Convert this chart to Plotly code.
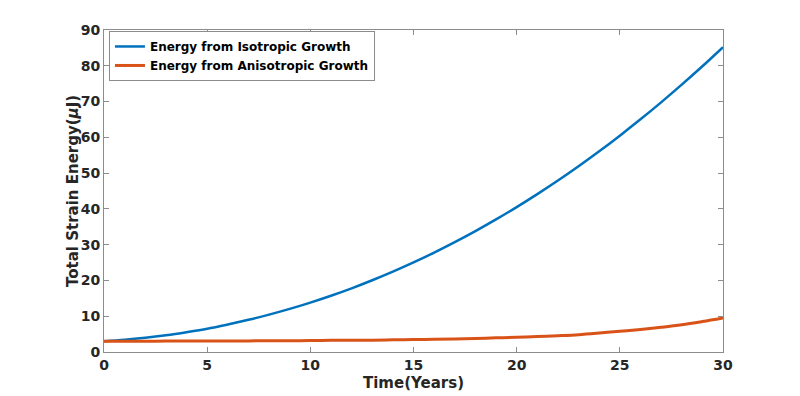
import plotly.graph_objects as go

years = list(range(0, 31))

iso_energy = [3.0, 3.42, 3.99, 4.70, 5.55, 6.5, 7.69, 8.99, 10.44, 12.04,
              13.8, 15.72, 17.80, 20.05, 22.45, 25.03, 27.78, 30.70, 33.79, 37.05,
              40.5, 44.13, 47.93, 51.92, 56.10, 60.47, 65.03, 69.78, 74.72, 79.86,
              85.2]

aniso_energy = [3.0, 3.0, 3.0, 3.05, 3.05, 3.1, 3.1, 3.1, 3.15, 3.15,
                3.2, 3.25, 3.3, 3.3, 3.4, 3.5, 3.55, 3.65, 3.8, 3.95,
                4.1, 4.3, 4.55, 4.85, 5.3, 5.8, 6.3, 6.9, 7.6, 8.5,
                9.5]

fig = go.Figure()

fig.add_trace(go.Scatter(x=years, y=iso_energy, mode='lines', line_shape='spline',
                         name='Energy from Isotropic Growth',
                         line=dict(color='#0072BD', width=2.5)))
fig.add_trace(go.Scatter(x=years, y=aniso_energy, mode='lines', line_shape='spline',
                         name='Energy from Anisotropic Growth',
                         line=dict(color='#D95319', width=3)))

axis_font = dict(family='DejaVu Sans', size=14, color='#262626', weight='bold')
title_font = dict(family='DejaVu Sans', size=15, color='#262626', weight='bold')

# page body has an 8px margin, so the figure is shifted by 8px
fig.update_layout(
    width=784, height=386,
    margin=dict(l=96, r=69, t=22, b=42),
    plot_bgcolor='white',
    paper_bgcolor='white',
    showlegend=True,
    legend=dict(x=0.008, y=0.997, xanchor='left', yanchor='top',
                bordercolor='#8c8c8c', borderwidth=1, bgcolor='white',
                font=dict(family='DejaVu Sans', size=12, color='black', weight='bold'),
                tracegroupgap=0, itemwidth=30),
)

# axis titles as annotations so they sit where matlab put them
fig.add_annotation(text='Time(Years)', xref='paper', yref='paper', x=0.5, y=0,
                   xanchor='center', yanchor='top', yshift=-20, showarrow=False,
                   font=title_font)
fig.add_annotation(text='Total Strain Energy(<i>μ</i>J)', xref='paper', yref='paper',
                   x=0, y=0.5, xanchor='center', yanchor='middle', xshift=-31,
                   textangle=-90, showarrow=False, font=title_font)

fig.update_xaxes(range=[0, 30], tickvals=[0, 5, 10, 15, 20, 25, 30],
                 ticks='inside', ticklen=5, tickcolor='#8c8c8c',
                 showline=True, linecolor='#8c8c8c', linewidth=1, mirror='ticks',
                 showgrid=False, zeroline=False, tickfont=axis_font, automargin=False)
fig.update_yaxes(range=[0, 90], tickvals=list(range(0, 91, 10)),
                 ticks='inside', ticklen=5, tickcolor='#8c8c8c',
                 showline=True, linecolor='#8c8c8c', linewidth=1, mirror='ticks',
                 showgrid=False, zeroline=False, tickfont=axis_font, automargin=False)

fig.write_html("out.html")
